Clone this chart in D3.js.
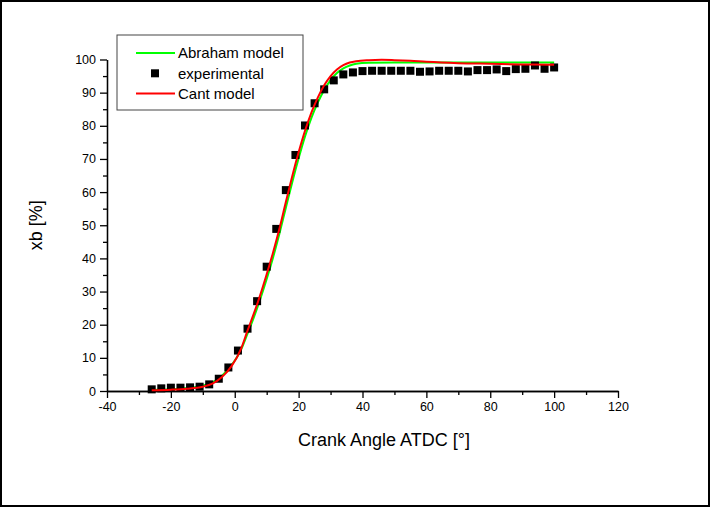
<!DOCTYPE html>
<html>
<head>
<meta charset="utf-8">
<script src="https://cdn.jsdelivr.net/npm/d3@7"></script>
<style>
  body { margin: 0; background: #fff; }
  svg { display: block; font-family: "Liberation Sans", Arial, sans-serif; }
  .axis path, .axis line { stroke: #000; stroke-width: 1.3px; }
  .axis text { fill: #000; font-size: 12.5px; }
</style>
</head>
<body>
<div id="container"></div>
<script>
// experimental burned mass fraction, every 3 deg
const expAngle = [-26, -23, -20, -17, -14, -11, -8, -5, -2, 1, 4, 7, 10, 13, 16, 19, 22, 25, 28, 31, 34,
  37, 40, 43, 46, 49, 52, 55, 58, 61, 64, 67, 70, 73, 76, 79, 82, 85, 88, 91, 94, 97, 100];
const expXb = [0.5, 0.8, 1.0, 1.0, 1.1, 1.3, 2.0, 3.7, 7.1, 12.2, 18.8, 27.1, 37.5, 48.9, 60.6, 71.2, 80.1, 86.8, 91.0, 93.7, 95.5,
  96.1, 96.5, 96.6, 96.6, 96.6, 96.6, 96.6, 96.3, 96.4, 96.6, 96.6, 96.6, 96.4, 96.8, 96.8, 97.0, 96.5, 97.1, 97.2, 98.2, 97.2, 97.6];

// Abraham model curve
const abrahamAngle = [-26, -20, -15, -10, -7, -4, -1, 2, 4, 6, 8, 10, 12, 14, 16, 18, 20, 22, 24, 26, 28, 30, 32, 34, 36, 38, 42, 50, 60, 80, 100];
const abrahamXb = [0.3, 0.5, 0.9, 1.6, 2.6, 4.6, 7.8, 12.5, 17.3, 22.3, 27.8, 33.8, 40.3, 47.5, 55.3, 63.0, 70.2, 76.8, 82.4, 87.0, 90.8, 93.8, 95.9, 97.3, 98.2, 98.7, 99.0, 99.1, 99.1, 99.1, 99.1];

// Cant model curve
const cantAngle = [-26, -20, -15, -10, -7, -4, -1, 2, 4, 6, 8, 10, 12, 14, 16, 18, 20, 22, 24, 26, 28, 30, 32, 34, 36, 38, 42, 46, 50, 55, 60, 70, 80, 90, 100];
const cantXb = [0.2, 0.4, 0.7, 1.3, 2.2, 4.2, 7.5, 12.8, 18.2, 23.4, 29.0, 35.2, 41.8, 49.0, 57.0, 64.8, 72.0, 78.5, 84.0, 88.5, 92.2, 95.0, 97.0, 98.3, 99.1, 99.5, 99.8, 99.9, 99.8, 99.6, 99.3, 98.9, 98.7, 98.5, 98.4];

const xTicks = [-40, -20, 0, 20, 40, 60, 80, 100, 120];
const yTicks = [0, 10, 20, 30, 40, 50, 60, 70, 80, 90, 100];

const legendItems = [
  { label: 'Abraham model', type: 'line', color: '#00ff00' },
  { label: 'experimental', type: 'square', color: '#000' },
  { label: 'Cant model', type: 'line', color: '#ff0000' }
];

let width = 710, height = 507;
let svg = d3.select('#container').append('svg')
  .attr('width', width)
  .attr('height', height);

main();

function main() {
  // figure frame
  svg.append('rect')
    .attr('x', 1).attr('y', 1)
    .attr('width', width - 2).attr('height', height - 2)
    .attr('fill', '#fff')
    .attr('stroke', '#000')
    .attr('stroke-width', 2);

  let x = d3.scaleLinear().domain([-40, 120]).range([107, 618]);
  let y = d3.scaleLinear().domain([0, 100]).range([391, 59.5]);

  // minor ticks first, then major with labels
  svg.append('g')
    .attr('class', 'axis')
    .attr('transform', `translate(0,${y(0)})`)
    .call(d3.axisBottom(x).tickValues(d3.range(-30, 120, 20)).tickSize(4).tickSizeOuter(0).tickFormat(''));
  svg.append('g')
    .attr('class', 'axis')
    .attr('transform', `translate(0,${y(0)})`)
    .call(d3.axisBottom(x).tickValues(xTicks).tickSize(7).tickSizeOuter(0).tickPadding(4)
      .tickFormat((d) => String(d)));

  svg.append('g')
    .attr('class', 'axis')
    .attr('transform', `translate(${x(-40)},0)`)
    .call(d3.axisLeft(y).tickValues(d3.range(5, 100, 10)).tickSize(4).tickSizeOuter(0).tickFormat(''));
  svg.append('g')
    .attr('class', 'axis')
    .attr('transform', `translate(${x(-40)},0)`)
    .call(d3.axisLeft(y).tickValues(yTicks).tickSize(7).tickSizeOuter(0).tickPadding(4));

  // axis titles
  svg.append('text')
    .attr('x', 384)
    .attr('y', 446)
    .attr('text-anchor', 'middle')
    .style('font-size', '18px')
    .text('Crank Angle ATDC [°]');

  svg.append('text')
    .attr('transform', `translate(42,${(y(0) + y(100)) / 2}) rotate(-90)`)
    .attr('text-anchor', 'middle')
    .style('font-size', '18px')
    .text('xb [%]');

  let line = d3.line()
    .x((d) => x(d[0]))
    .y((d) => y(d[1]))
    .curve(d3.curveMonotoneX);

  svg.append('path')
    .datum(abrahamAngle.map((a, i) => [a, abrahamXb[i]]))
    .attr('d', line)
    .attr('fill', 'none')
    .attr('stroke', '#00ff00')
    .attr('stroke-width', 2);

  svg.append('g')
    .selectAll('rect')
    .data(expAngle.map((a, i) => [a, expXb[i]]))
    .enter()
    .append('rect')
    .attr('x', (d) => x(d[0]) - 4)
    .attr('y', (d) => y(d[1]) - 4)
    .attr('width', 8)
    .attr('height', 8)
    .attr('fill', '#000');

  svg.append('path')
    .datum(cantAngle.map((a, i) => [a, cantXb[i]]))
    .attr('d', line)
    .attr('fill', 'none')
    .attr('stroke', '#ff0000')
    .attr('stroke-width', 2);

  drawLegend();
}

function drawLegend() {
  let legend = svg.append('g').attr('transform', 'translate(117,35)');
  legend.append('rect')
    .attr('width', 186).attr('height', 75)
    .attr('fill', '#fff')
    .attr('stroke', '#444')
    .attr('stroke-width', 1);

  let rows = legend.selectAll('g.item')
    .data(legendItems)
    .enter()
    .append('g')
    .attr('class', 'item')
    .attr('transform', (d, i) => `translate(0,${18 + i * 20.3})`);

  rows.filter((d) => d.type === 'line')
    .append('line')
    .attr('x1', 19).attr('x2', 58)
    .attr('stroke', (d) => d.color)
    .attr('stroke-width', 2);

  rows.filter((d) => d.type === 'square')
    .append('rect')
    .attr('x', 34).attr('y', -4)
    .attr('width', 8).attr('height', 8)
    .attr('fill', (d) => d.color);

  rows.append('text')
    .attr('x', 61)
    .attr('dy', '0.35em')
    .style('font-size', '15px')
    .text((d) => d.label);
}
</script>
</body>
</html>
